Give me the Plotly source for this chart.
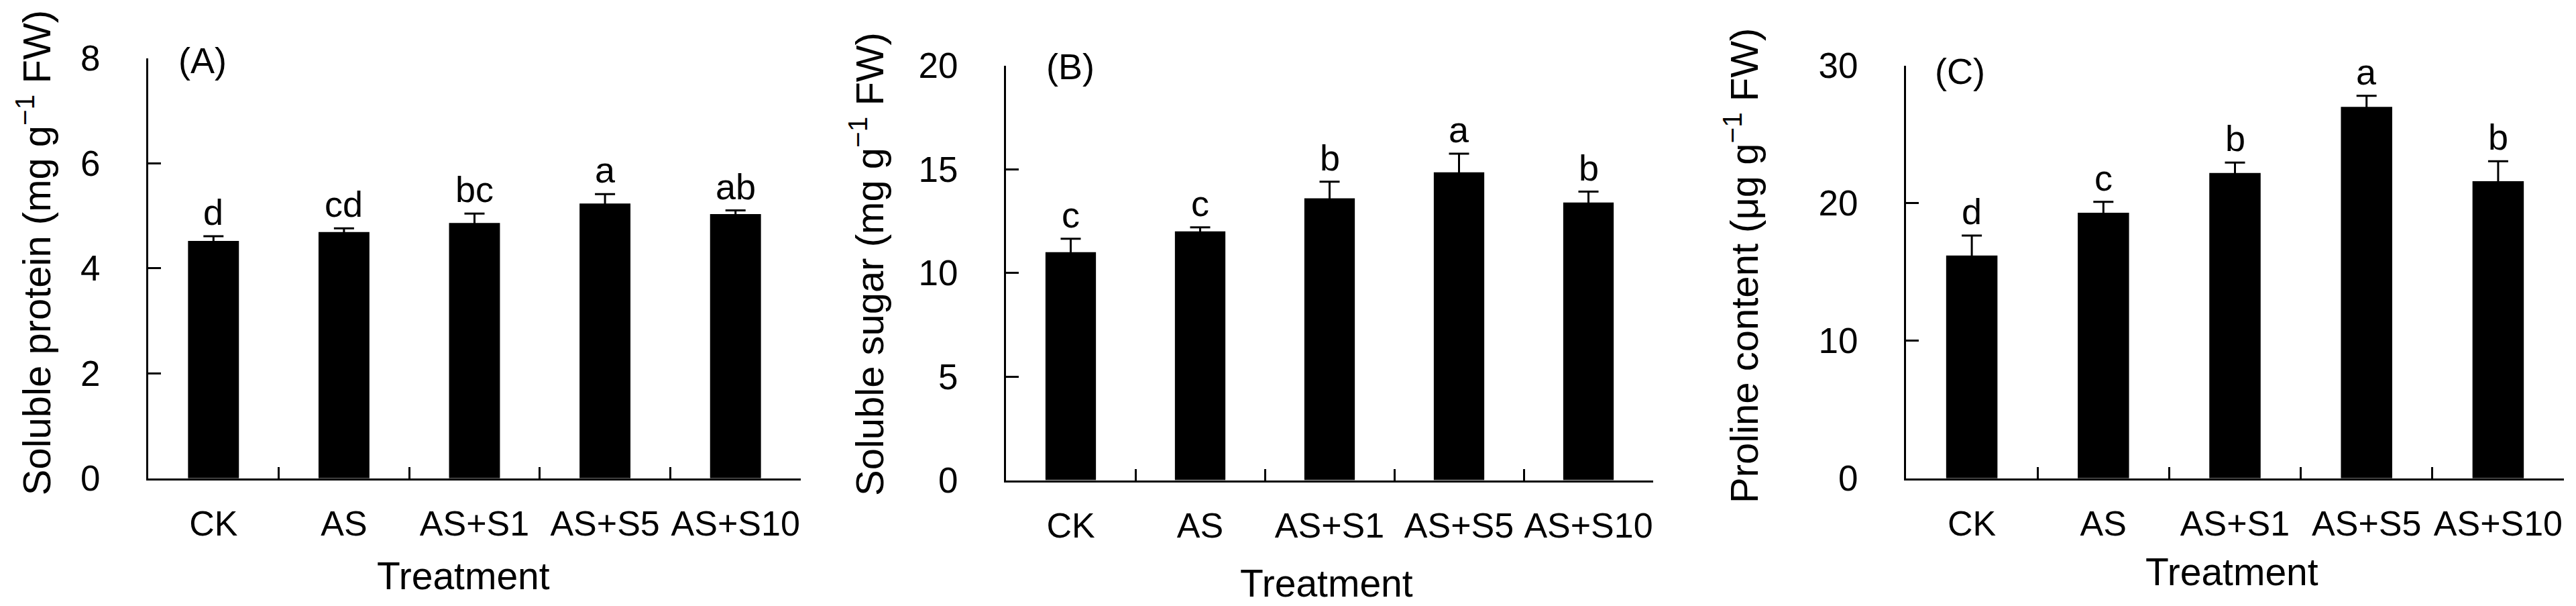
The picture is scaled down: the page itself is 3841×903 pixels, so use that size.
import plotly.graph_objects as go

# Treatments (same for all three panels)
treatments = ["CK", "AS", "AS+S1", "AS+S5", "AS+S10"]

# (A) soluble protein, mg g-1 FW
protein_mean = [4.52, 4.69, 4.86, 5.23, 5.03]
protein_se = [0.09, 0.07, 0.18, 0.18, 0.07]
protein_letters = ["d", "cd", "bc", "a", "ab"]

# (B) soluble sugar, mg g-1 FW
sugar_mean = [11.0, 12.0, 13.6, 14.85, 13.4]
sugar_se = [0.65, 0.2, 0.8, 0.9, 0.52]
sugar_letters = ["c", "c", "b", "a", "b"]

# (C) proline, ug g-1 FW
proline_mean = [16.2, 19.3, 22.2, 27.0, 21.6]
proline_se = [1.45, 0.8, 0.75, 0.8, 1.45]
proline_letters = ["d", "c", "b", "a", "b"]

W, H = 3841, 903
FONT = "Arial, Liberation Sans, sans-serif"

panels = [
    dict(mean=protein_mean, se=protein_se, letters=protein_letters, label="(A)",
         ytitle="Soluble protein (mg g<sup>−1</sup> FW)", yrange=[0, 8], dtick=2,
         xdom=[213, 1186], ydom=[723, 53], ytx=42, yty=364, xtx=683, xty=878,
         lab=(256, 57)),
    dict(mean=sugar_mean, se=sugar_se, letters=sugar_letters, label="(B)",
         ytitle="Soluble sugar (mg g<sup>−1</sup> FW)", yrange=[0, 20], dtick=5,
         xdom=[1492, 2457], ydom=[726, 65], ytx=1284, yty=382, xtx=1970, xty=890,
         lab=(1550, 66)),
    dict(mean=proline_mean, se=proline_se, letters=proline_letters, label="(C)",
         ytitle="Proline content (μg g<sup>−1</sup> FW)", yrange=[0, 30], dtick=10,
         xdom=[2834, 3815], ydom=[723, 65], ytx=2589, yty=384, xtx=3320, xty=872,
         lab=(2875, 74)),
]

fig = go.Figure()
annotations = []

for i, p in enumerate(panels):
    n = "" if i == 0 else str(i + 1)
    xa, ya = "x" + n, "y" + n

    fig.add_trace(go.Bar(
        x=treatments, y=p["mean"], xaxis=xa, yaxis=ya,
        marker_color="black", marker_line_width=0,
        error_y=dict(type="data", array=p["se"], color="black", thickness=3, width=15),
        showlegend=False,
    ))

    # significance letters above the error bars
    for t, m, s, l in zip(treatments, p["mean"], p["se"], p["letters"]):
        annotations.append(dict(
            x=t, y=m + s, xref=xa, yref=ya, text=l, showarrow=False,
            yanchor="bottom", yshift=4, font=dict(size=54, color="black", family=FONT),
        ))

    annotations.append(dict(
        x=p["lab"][0] / W, y=1 - p["lab"][1] / H, xref="paper", yref="paper",
        text=p["label"], showarrow=False, xanchor="left", yanchor="middle",
        font=dict(size=54, color="black", family=FONT),
    ))
    annotations.append(dict(
        x=p["ytx"] / W, y=1 - p["yty"] / H, xref="paper", yref="paper",
        text=p["ytitle"], textangle=-90, showarrow=False,
        xanchor="center", yanchor="middle",
        font=dict(size=58, color="black", family=FONT),
    ))
    annotations.append(dict(
        x=p["xtx"] / W, y=1 - p["xty"] / H, xref="paper", yref="paper",
        text="Treatment", showarrow=False, xanchor="center", yanchor="middle",
        font=dict(size=57, color="black", family=FONT),
    ))

    fig.update_layout(**{
        "xaxis" + n: dict(
            domain=[p["xdom"][0] / W, p["xdom"][1] / W], anchor=ya,
            range=[-0.5, 4.5], showline=True, linecolor="black", linewidth=3,
            ticks="inside", tickson="boundaries", ticklen=17, tickwidth=3, tickcolor="black",
            showgrid=False, zeroline=False, tickangle=0, ticklabelstandoff=20,
            tickfont=dict(size=52, color="black", family=FONT),
        ),
        "yaxis" + n: dict(
            domain=[1 - p["ydom"][0] / H, 1 - p["ydom"][1] / H], anchor=xa,
            range=p["yrange"], dtick=p["dtick"], showline=True, linecolor="black", linewidth=3,
            ticks="inside", ticklen=19, tickwidth=3, tickcolor="black",
            showgrid=False, zeroline=False, ticklabelstandoff=58,
            tickfont=dict(size=53, color="black", family=FONT),
        ),
    })

fig.update_layout(
    width=W, height=H,
    margin=dict(l=0, r=0, t=0, b=0),
    plot_bgcolor="white", paper_bgcolor="white",
    bargap=0.61,
    annotations=annotations,
)

fig.write_html("out.html")
